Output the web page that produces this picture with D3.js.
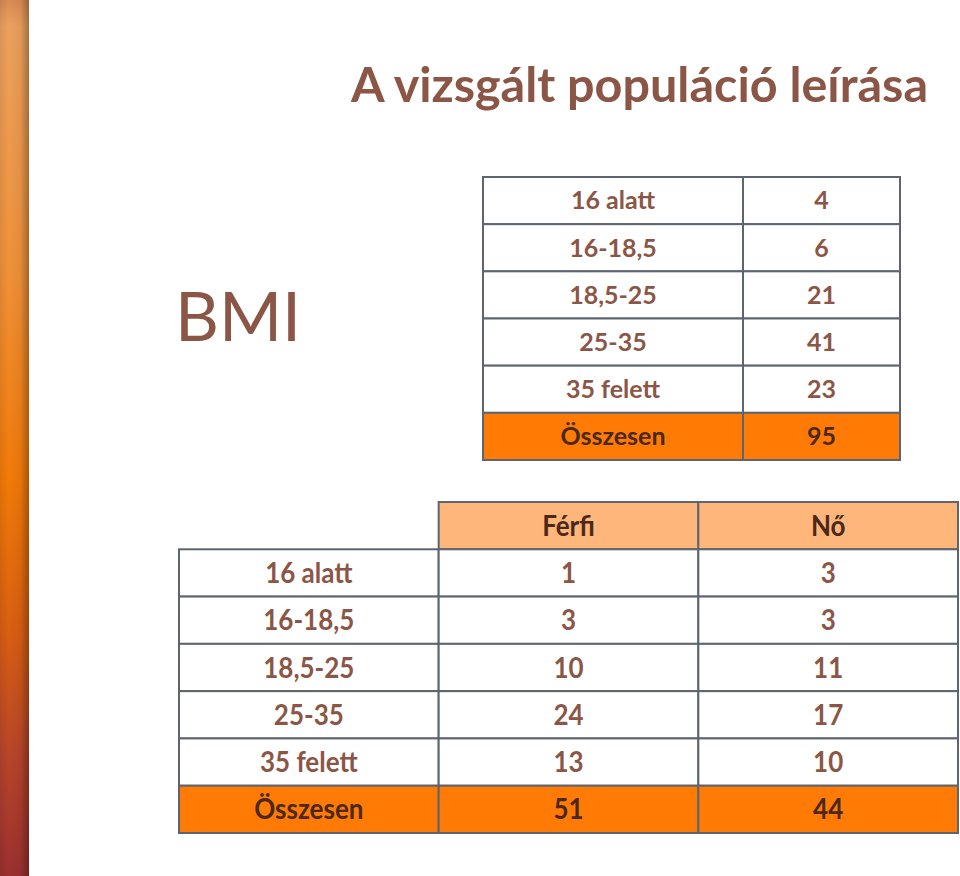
<!DOCTYPE html>
<html>
<head>
<meta charset="utf-8">
<script src="https://cdn.jsdelivr.net/npm/d3@7"></script>
<style>
  html, body { margin: 0; padding: 0; background: #fff; }
  svg { display: block; font-family: Lato, "Open Sans", sans-serif; }
</style>
</head>
<body>
<div id="wrapper"></div>
<script>
// data
const titleText = "A vizsgált populáció leírása";
const sideLabel = "BMI";
const bmiCategories = ["16 alatt", "16-18,5", "18,5-25", "25-35", "35 felett"];
const totalLabel = "Összesen";
const bmiCounts = [4, 6, 21, 41, 23];
const bmiTotal = 95;
const genderColumns = ["Férfi", "Nő"];
const ferfiCounts = [1, 3, 10, 24, 13];
const noCounts = [3, 3, 11, 17, 10];
const genderTotals = [51, 44];

const dimensions = { width: 960, height: 876 };

const textColor = "#8b5646";
const darkText = "#4b2818";
const borderColor = "#5d6670";
const totalFill = "#ff7b06";
const headerFill = "#ffb67b";

const wrapper = d3.select("#wrapper")
  .append("svg")
    .attr("width", dimensions.width)
    .attr("height", dimensions.height);

// left decorative bar
const defs = wrapper.append("defs");
const vGrad = defs.append("linearGradient")
    .attr("id", "barV").attr("x1", 0).attr("y1", 0).attr("x2", 0).attr("y2", 1);
[[0, "#d98b55"], [0.03, "#eca15f"], [0.3, "#f0923a"], [0.55, "#f27a08"], [0.72, "#d95f12"], [0.86, "#b8452a"], [1, "#9c3030"]]
  .forEach(([o, c]) => vGrad.append("stop").attr("offset", o).attr("stop-color", c));
const hGrad = defs.append("linearGradient")
    .attr("id", "barH").attr("x1", 0).attr("y1", 0).attr("x2", 1).attr("y2", 0);
[[0, "rgba(0,0,0,0.08)"], [0.3, "rgba(0,0,0,0)"], [0.7, "rgba(0,0,0,0.05)"], [1, "rgba(0,0,0,0.3)"]]
  .forEach(([o, c]) => hGrad.append("stop").attr("offset", o).attr("stop-color", c));

wrapper.append("rect").attr("x", 0).attr("y", 0).attr("width", 29).attr("height", dimensions.height)
  .attr("fill", "url(#barV)");
wrapper.append("rect").attr("x", 0).attr("y", 0).attr("width", 29).attr("height", dimensions.height)
  .attr("fill", "url(#barH)");

// title + side label
wrapper.append("text")
    .attr("x", 928).attr("y", 102)
    .attr("text-anchor", "end")
    .attr("font-size", 48.5)
    .attr("font-weight", 700)
    .attr("fill", textColor)
    .text(titleText);

wrapper.append("text")
    .attr("x", 175).attr("y", 341)
    .attr("font-size", 68)
    .attr("fill", textColor)
    .text(sideLabel);

// table helper
function drawCell(g, x, y, w, h, fill) {
  g.append("rect")
    .attr("x", x).attr("y", y).attr("width", w).attr("height", h)
    .attr("fill", fill)
    .attr("stroke", borderColor)
    .attr("stroke-width", 2);
}
function drawText(g, x, y, h, txt, color, size, sy) {
  g.append("text")
    .attr("transform", `translate(${x},${y + h / 2}) scale(1,${sy})`)
    .attr("text-anchor", "middle")
    .attr("dy", "0.35em")
    .attr("font-size", size)
    .attr("font-weight", 700)
    .attr("fill", color)
    .text(txt);
}

// 1. BMI totals table
const topRows = [...bmiCategories, totalLabel];
const topValues = [...bmiCounts, bmiTotal];
const topY = d3.scaleBand().domain(topRows).range([177, 460]);
const topX = d3.scaleOrdinal().domain(["label", "value"]).range([483, 743]);
const topW = { label: 260, value: 157 };

const topTable = wrapper.append("g");
topRows.forEach((r, i) => {
  const isTotal = r === totalLabel;
  const fill = isTotal ? totalFill : "#fff";
  const color = isTotal ? darkText : textColor;
  drawCell(topTable, topX("label"), topY(r), topW.label, topY.bandwidth(), fill);
  drawCell(topTable, topX("value"), topY(r), topW.value, topY.bandwidth(), fill);
  drawText(topTable, topX("label") + topW.label / 2, topY(r), topY.bandwidth(), r, color, 25, 1);
  drawText(topTable, topX("value") + topW.value / 2, topY(r), topY.bandwidth(), topValues[i], color, 25, 1);
});

// 2. gender table
const botRows = ["header", ...bmiCategories, totalLabel];
const botY = d3.scaleBand().domain(botRows).range([502, 833]);
const botX = d3.scaleBand().domain(["label", ...genderColumns]).range([179, 958]);
const botTable = wrapper.append("g");
const sy = 1.1;

genderColumns.forEach(c => {
  drawCell(botTable, botX(c), botY("header"), botX.bandwidth(), botY.bandwidth(), headerFill);
  drawText(botTable, botX(c) + botX.bandwidth() / 2, botY("header"), botY.bandwidth(), c, darkText, 26, sy);
});

const bodyRows = [...bmiCategories, totalLabel];
const ferfiAll = [...ferfiCounts, genderTotals[0]];
const noAll = [...noCounts, genderTotals[1]];
bodyRows.forEach((r, i) => {
  const isTotal = r === totalLabel;
  const fill = isTotal ? totalFill : "#fff";
  const color = isTotal ? darkText : textColor;
  const vals = { label: r, "Férfi": ferfiAll[i], "Nő": noAll[i] };
  botX.domain().forEach(c => {
    drawCell(botTable, botX(c), botY(r), botX.bandwidth(), botY.bandwidth(), fill);
    drawText(botTable, botX(c) + botX.bandwidth() / 2, botY(r), botY.bandwidth(), vals[c], color, 26, sy);
  });
});
</script>
</body>
</html>
